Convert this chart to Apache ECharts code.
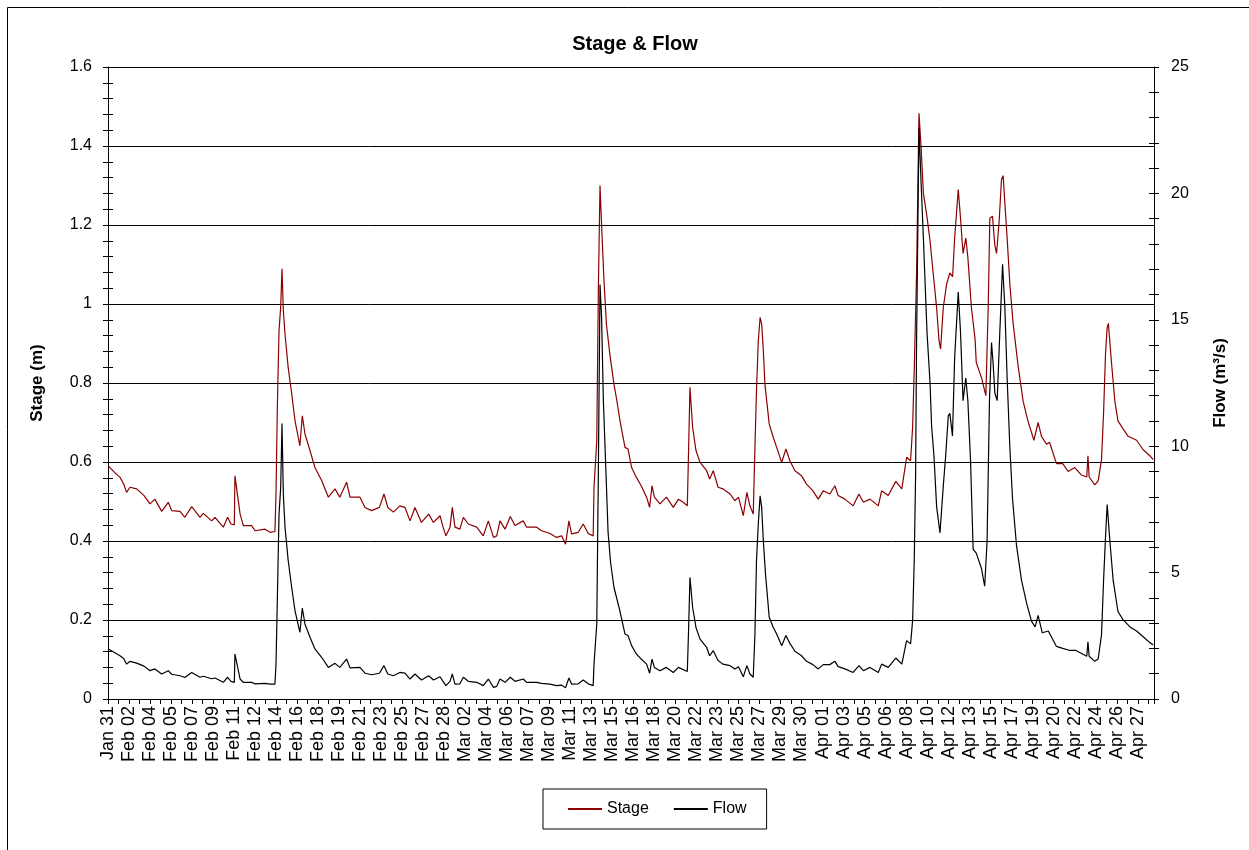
<!DOCTYPE html>
<html>
<head>
<meta charset="utf-8">
<title>Stage & Flow</title>
<script src="https://cdn.jsdelivr.net/npm/echarts/dist/echarts.min.js"></script>
<style>
  html, body { margin: 0; padding: 0; background: #fff; }
  #chart { width: 1249px; height: 850px; }
</style>
</head>
<body>
<div id="chart"></div>
<script>
// x values are days from the first reading (Jan 31, ~14:00); a label every 1.75 days
var tickLabels = ['Jan 31', 'Feb 02', 'Feb 04', 'Feb 05', 'Feb 07', 'Feb 09', 'Feb 11', 'Feb 12', 'Feb 14', 'Feb 16',
  'Feb 18', 'Feb 19', 'Feb 21', 'Feb 23', 'Feb 25', 'Feb 27', 'Feb 28', 'Mar 02', 'Mar 04', 'Mar 06',
  'Mar 07', 'Mar 09', 'Mar 11', 'Mar 13', 'Mar 15', 'Mar 16', 'Mar 18', 'Mar 20', 'Mar 22', 'Mar 23',
  'Mar 25', 'Mar 27', 'Mar 29', 'Mar 30', 'Apr 01', 'Apr 03', 'Apr 05', 'Apr 06', 'Apr 08', 'Apr 10',
  'Apr 12', 'Apr 13', 'Apr 15', 'Apr 17', 'Apr 19', 'Apr 20', 'Apr 22', 'Apr 24', 'Apr 26', 'Apr 27'];

// Stage (m)
var stageT = [0.03, 0.5, 1.0, 1.3, 1.55, 1.83, 2.39, 3.0, 3.5, 3.9, 4.47, 5.02, 5.3, 6.0, 6.4, 6.97, 7.66, 7.94, 8.63, 8.91,
  9.6, 9.96, 10.24, 10.52, 10.57, 10.7, 11.0, 11.27, 11.96, 12.24, 13.07, 13.5, 13.9, 13.99, 14.1, 14.24, 14.38, 14.49, 14.6, 14.74,
  15.0, 15.3, 15.57, 15.98, 16.18, 16.4, 16.82, 17.23, 17.79, 18.35, 18.9, 19.3, 19.87, 20.15, 20.98, 21.4, 21.95, 22.6, 22.98, 23.3,
  23.76, 24.3, 24.73, 25.15, 25.56, 26.1, 26.7, 27.1, 27.65, 27.9, 28.14, 28.48, 28.67, 28.89, 29.3, 29.59, 30.0, 30.7, 31.25, 31.67,
  32.1, 32.37, 32.64, 33.06, 33.5, 33.89, 34.58, 34.86, 35.7, 36.1, 36.8, 37.35, 37.77, 38.1, 38.38, 38.6, 39.16, 39.57, 39.99, 40.4,
  40.47, 40.7, 40.83, 40.97, 41.1, 41.3, 41.5, 41.8, 42.13, 42.35, 42.63, 43.05, 43.3, 43.6, 44.0, 44.4, 44.85, 45.1, 45.3, 45.5,
  45.96, 46.5, 47.07, 47.5, 47.9, 48.24, 48.35, 48.46, 48.68, 48.96, 49.3, 49.85, 50.1, 50.4, 50.8, 51.2, 51.8, 52.2, 52.5, 52.9,
  53.2, 53.45, 53.73, 53.87, 54.0, 54.15, 54.3, 54.43, 54.57, 54.7, 55.06, 55.4, 55.68, 56.1, 56.45, 56.78, 57.2, 57.75, 58.17, 58.7,
  59.14, 59.56, 60.1, 60.53, 60.8, 61.36, 62.05, 62.53, 62.9, 63.45, 64.14, 64.42, 64.97, 65.6, 66.1, 66.5, 66.83, 67.0, 67.14, 67.33,
  67.53, 67.7, 67.9, 68.2, 68.45, 68.72, 69.0, 69.2, 69.33, 69.55, 69.83, 70.1, 70.33, 70.5, 70.8, 70.99, 71.2, 71.43, 71.6, 71.9,
  72.2, 72.3, 72.74, 73.1, 73.3, 73.43, 73.65, 73.85, 73.99, 74.2, 74.4, 74.54, 74.68, 74.87, 75.1, 75.37, 75.79, 76.2, 76.6, 77.1,
  77.45, 77.73, 78.15, 78.4, 78.98, 79.5, 79.95, 80.5, 81.06, 81.5, 81.6, 81.7, 82.17, 82.45, 82.73, 82.9, 83.06, 83.2, 83.3, 83.56,
  83.84, 84.1, 84.5, 84.95, 85.65, 86.2, 86.75, 87.03];
var stageV = [0.59, 0.575, 0.561, 0.545, 0.523, 0.536, 0.532, 0.515, 0.494, 0.506, 0.475, 0.498, 0.477, 0.475, 0.46, 0.487, 0.46, 0.47, 0.451, 0.46,
  0.435, 0.46, 0.443, 0.441, 0.565, 0.565, 0.468, 0.439, 0.439, 0.426, 0.43, 0.422, 0.424, 0.519, 0.738, 0.932, 0.992, 1.089, 0.983, 0.924,
  0.84, 0.772, 0.705, 0.641, 0.717, 0.671, 0.629, 0.586, 0.553, 0.511, 0.532, 0.511, 0.549, 0.511, 0.511, 0.485, 0.477, 0.485, 0.519, 0.485,
  0.473, 0.489, 0.485, 0.451, 0.485, 0.447, 0.468, 0.447, 0.464, 0.435, 0.413, 0.435, 0.485, 0.435, 0.43, 0.46, 0.443, 0.435, 0.413, 0.451,
  0.409, 0.413, 0.451, 0.43, 0.462, 0.439, 0.451, 0.435, 0.435, 0.426, 0.419, 0.409, 0.413, 0.392, 0.451, 0.418, 0.422, 0.443, 0.419, 0.413,
  0.536, 0.654, 1.034, 1.30, 1.2, 1.06, 0.95, 0.87, 0.797, 0.759, 0.705, 0.637, 0.633, 0.586, 0.561, 0.54, 0.511, 0.485, 0.54, 0.511,
  0.494, 0.511, 0.485, 0.506, 0.498, 0.489, 0.637, 0.789, 0.688, 0.629, 0.599, 0.578, 0.557, 0.578, 0.536, 0.532, 0.519, 0.502, 0.511, 0.464,
  0.523, 0.489, 0.468, 0.637, 0.781, 0.907, 0.966, 0.949, 0.882, 0.797, 0.696, 0.662, 0.637, 0.599, 0.633, 0.603, 0.578, 0.565, 0.544, 0.527,
  0.506, 0.527, 0.519, 0.54, 0.515, 0.506, 0.489, 0.519, 0.498, 0.506, 0.489, 0.527, 0.515, 0.551, 0.532, 0.612, 0.603, 0.688, 0.84, 1.076,
  1.483, 1.4, 1.28, 1.22, 1.16, 1.076, 0.99, 0.907, 0.886, 0.99, 1.05, 1.079, 1.069, 1.167, 1.29, 1.217, 1.128, 1.167, 1.118, 0.99,
  0.911, 0.852, 0.813, 0.768, 1.0, 1.217, 1.222, 1.148, 1.128, 1.207, 1.315, 1.325, 1.256, 1.167, 1.049, 0.951, 0.842, 0.754, 0.704, 0.655,
  0.7, 0.665, 0.645, 0.65, 0.596, 0.596, 0.576, 0.586, 0.567, 0.562, 0.616, 0.562, 0.542, 0.552, 0.606, 0.724, 0.872, 0.941, 0.951, 0.852,
  0.754, 0.704, 0.685, 0.665, 0.655, 0.631, 0.616, 0.606];

// Flow (m3/s)
var flowT = [0.03, 0.5, 1.0, 1.3, 1.55, 1.83, 2.39, 3.0, 3.5, 3.9, 4.47, 5.02, 5.3, 6.0, 6.4, 6.97, 7.66, 7.94, 8.63, 8.91,
  9.6, 9.96, 10.24, 10.52, 10.57, 10.7, 11.0, 11.27, 11.96, 12.24, 13.07, 13.5, 13.9, 13.99, 14.1, 14.24, 14.38, 14.49, 14.6, 14.74,
  15.0, 15.3, 15.57, 15.98, 16.18, 16.4, 16.82, 17.23, 17.79, 18.35, 18.9, 19.3, 19.87, 20.15, 20.98, 21.4, 21.95, 22.6, 22.98, 23.3,
  23.76, 24.3, 24.73, 25.15, 25.56, 26.1, 26.7, 27.1, 27.65, 27.9, 28.14, 28.48, 28.67, 28.89, 29.3, 29.59, 30.0, 30.7, 31.25, 31.67,
  32.1, 32.37, 32.64, 33.06, 33.5, 33.89, 34.58, 34.86, 35.7, 36.1, 36.8, 37.35, 37.77, 38.1, 38.38, 38.6, 39.16, 39.57, 39.99, 40.4,
  40.47, 40.7, 40.83, 40.97, 41.1, 41.25, 41.45, 41.64, 41.85, 42.13, 42.55, 43.05, 43.3, 43.6, 44.0, 44.4, 44.85, 45.1, 45.3, 45.5,
  45.96, 46.5, 47.07, 47.5, 48.24, 48.35, 48.46, 48.68, 48.96, 49.3, 49.85, 50.1, 50.4, 50.8, 51.2, 51.8, 52.2, 52.5, 52.9, 53.2,
  53.45, 53.73, 53.87, 54.0, 54.15, 54.3, 54.43, 54.57, 54.75, 55.06, 55.4, 55.68, 56.1, 56.45, 56.78, 57.2, 57.75, 58.17, 58.7, 59.14,
  59.56, 60.1, 60.53, 60.8, 61.36, 62.05, 62.53, 62.9, 63.45, 64.14, 64.42, 64.97, 65.6, 66.1, 66.5, 66.83, 67.0, 67.14, 67.25, 67.33,
  67.53, 67.7, 67.9, 68.2, 68.45, 68.58, 68.78, 69.0, 69.28, 69.55, 69.75, 69.97, 70.1, 70.32, 70.5, 70.8, 70.99, 71.2, 71.43, 71.6,
  71.82, 72.04, 72.3, 72.74, 73.0, 73.2, 73.4, 73.57, 73.7, 73.85, 74.04, 74.26, 74.49, 74.68, 74.87, 75.1, 75.32, 75.65, 76.07, 76.5,
  76.9, 77.2, 77.45, 77.8, 78.3, 78.98, 79.5, 80.1, 80.6, 81.5, 81.6, 81.7, 82.17, 82.45, 82.73, 82.9, 83.06, 83.2, 83.43, 83.7,
  84.1, 84.5, 85.1, 85.65, 86.2, 86.75, 87.03];
var flowV = [1.98, 1.85, 1.71, 1.6, 1.38, 1.49, 1.42, 1.3, 1.12, 1.19, 0.99, 1.12, 0.98, 0.92, 0.85, 1.05, 0.86, 0.9, 0.8, 0.83,
  0.66, 0.86, 0.7, 0.66, 1.78, 1.71, 0.79, 0.66, 0.66, 0.6, 0.62, 0.59, 0.59, 1.38, 3.9, 7.3, 8.37, 10.9, 8.1, 6.8,
  5.5, 4.4, 3.5, 2.64, 3.6, 2.97, 2.44, 1.98, 1.65, 1.25, 1.41, 1.25, 1.58, 1.23, 1.25, 1.02, 0.96, 1.02, 1.32, 0.99,
  0.92, 1.05, 1.02, 0.79, 0.99, 0.75, 0.92, 0.75, 0.88, 0.7, 0.53, 0.7, 0.99, 0.59, 0.6, 0.86, 0.7, 0.66, 0.53, 0.79,
  0.46, 0.5, 0.79, 0.66, 0.86, 0.7, 0.79, 0.66, 0.66, 0.62, 0.59, 0.53, 0.55, 0.44, 0.83, 0.59, 0.6, 0.75, 0.6, 0.53,
  1.38, 2.97, 8.9, 16.4, 15.1, 11.8, 9.16, 6.6, 5.4, 4.42, 3.63, 2.57, 2.51, 2.11, 1.78, 1.58, 1.38, 1.02, 1.58, 1.25,
  1.12, 1.25, 1.05, 1.25, 1.09, 2.83, 4.81, 3.63, 2.83, 2.37, 2.04, 1.71, 1.91, 1.52, 1.38, 1.32, 1.19, 1.28, 0.88, 1.32,
  0.99, 0.86, 2.57, 5.47, 6.92, 8.04, 7.58, 6.26, 4.94, 3.23, 2.83, 2.57, 2.11, 2.51, 2.2, 1.89, 1.71, 1.49, 1.36, 1.19,
  1.36, 1.36, 1.49, 1.28, 1.19, 1.05, 1.32, 1.12, 1.25, 1.05, 1.38, 1.25, 1.62, 1.38, 2.31, 2.18, 3.1, 5.6, 8.9, 14.2,
  22.6, 20.5, 18.2, 14.5, 12.5, 10.8, 9.6, 7.6, 6.57, 8.4, 9.6, 11.2, 11.3, 10.4, 13.5, 16.1, 14.5, 11.8, 12.7, 11.8,
  9.46, 5.92, 5.77, 5.15, 4.46, 6.23, 11.8, 14.1, 13.3, 12.1, 11.8, 14.5, 17.2, 15.5, 12.7, 9.92, 7.92, 6.08, 4.69, 3.77,
  3.08, 2.85, 3.31, 2.62, 2.69, 2.08, 2.0, 1.92, 1.92, 1.69, 2.26, 1.69, 1.49, 1.58, 2.54, 4.69, 6.38, 7.69, 6.23, 4.69,
  3.46, 3.15, 2.85, 2.69, 2.46, 2.23, 2.15];

function pairs(xs, ys) {
  return xs.map(function(x, i) { return [x, ys[i]]; });
}

(function() {
  var font = "'Liberation Sans', Arial, sans-serif";
  var red = '#8b0000';
  var chart = echarts.init(document.getElementById('chart'), null, { renderer: 'canvas' });

  chart.setOption({
    animation: false,
    backgroundColor: '#fff',
    textStyle: { fontFamily: font, color: '#000' },
    title: {
      text: 'Stage & Flow',
      left: 630,
      top: 29,
      textAlign: 'center',
      textStyle: { fontFamily: font, fontSize: 20, fontWeight: 'bold', color: '#000' }
    },
    legend: {
      data: ['Stage', 'Flow'],
      left: 543,
      top: 789,
      padding: [12, 20, 12, 25],
      itemGap: 25,
      itemWidth: 34,
      itemHeight: 2,
      icon: 'rect',
      borderColor: '#000',
      borderWidth: 1,
      borderRadius: 0,
      textStyle: { fontFamily: font, fontSize: 16, color: '#000' }
    },
    grid: { left: 108, right: 95, top: 67, bottom: 151, containLabel: false },
    xAxis: {
      type: 'value',
      min: 0,
      max: 87.1,
      interval: 1.75,
      axisLine: { lineStyle: { color: '#000', width: 1 } },
      axisTick: { show: true, length: 5, lineStyle: { color: '#000' } },
      minorTick: { show: true, splitNumber: 2, length: 5, lineStyle: { color: '#000' } },
      splitLine: { show: false },
      axisLabel: {
        rotate: 90,
        margin: 7,
        fontSize: 18,
        fontFamily: font,
        color: '#000',
        showMaxLabel: false,
        formatter: function(v) {
          var k = Math.round(v / 1.75);
          return tickLabels[k] || '';
        }
      }
    },
    yAxis: [
      {
        type: 'value', position: 'left', min: 0, max: 1.6, interval: 0.2,
        name: 'Stage (m)', nameLocation: 'middle', nameGap: 62,
        nameTextStyle: { fontFamily: font, fontSize: 17, fontWeight: 'bold', color: '#000' },
        axisLine: { show: true, lineStyle: { color: '#000' } },
        axisTick: { show: true, length: 5, lineStyle: { color: '#000' } },
        minorTick: { show: true, splitNumber: 5, length: 5, lineStyle: { color: '#000' } },
        splitLine: { show: true, lineStyle: { color: '#000', width: 1 } },
        axisLabel: { margin: 16, fontSize: 16, fontFamily: font, color: '#000' }
      },
      {
        type: 'value', position: 'right', min: 0, max: 25, interval: 5,
        name: 'Flow (m³/s)', nameLocation: 'middle', nameGap: 58, nameRotate: 90,
        nameTextStyle: { fontFamily: font, fontSize: 17, fontWeight: 'bold', color: '#000' },
        axisLine: { show: true, lineStyle: { color: '#000' } },
        axisTick: { show: true, length: 5, lineStyle: { color: '#000' } },
        minorTick: { show: true, splitNumber: 5, length: 5, lineStyle: { color: '#000' } },
        splitLine: { show: false },
        axisLabel: { margin: 17, fontSize: 16, fontFamily: font, color: '#000' }
      },
      // copies of both axes, only to draw the inner half of the crossing ticks
      {
        type: 'value', position: 'left', min: 0, max: 1.6, interval: 0.2,
        axisLine: { show: false },
        axisTick: { show: true, inside: true, length: 5, lineStyle: { color: '#000' } },
        minorTick: { show: true, splitNumber: 5, length: 5, lineStyle: { color: '#000' } },
        splitLine: { show: false },
        axisLabel: { show: false }
      },
      {
        type: 'value', position: 'right', min: 0, max: 25, interval: 5,
        axisLine: { show: false },
        axisTick: { show: true, inside: true, length: 5, lineStyle: { color: '#000' } },
        minorTick: { show: true, splitNumber: 5, length: 5, lineStyle: { color: '#000' } },
        splitLine: { show: false },
        axisLabel: { show: false }
      }
    ],
    series: [
      {
        name: 'Stage',
        type: 'line',
        yAxisIndex: 0,
        data: pairs(stageT, stageV),
        showSymbol: false,
        color: red,
        lineStyle: { color: red, width: 1.2 }
      },
      {
        name: 'Flow',
        type: 'line',
        yAxisIndex: 1,
        data: pairs(flowT, flowV),
        showSymbol: false,
        color: '#000',
        lineStyle: { color: '#000', width: 1.2 }
      }
    ],
    graphic: [
      {
        // chart area frame, runs off the right and bottom edges
        type: 'rect',
        shape: { x: 7.5, y: 7.5, width: 1260, height: 860 },
        style: { fill: 'none', stroke: '#000', lineWidth: 1 },
        silent: true
      }
    ]
  });

  window.addEventListener('resize', function() { chart.resize(); });
})();
</script>
</body>
</html>
